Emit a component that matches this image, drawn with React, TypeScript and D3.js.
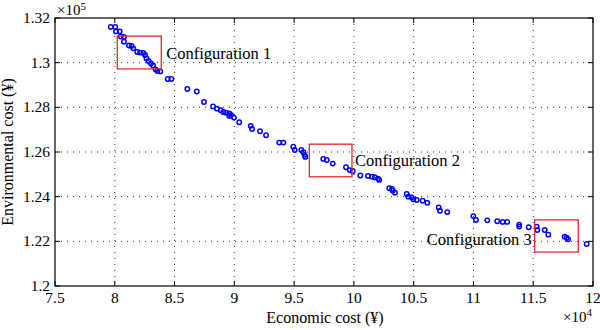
import React from "react";
import * as d3 from "d3";

const econ: number[] = [7.966,8.004,8.010,8.041,8.050,8.077,8.077,8.119,8.141,8.155,8.188,8.211,8.239,8.253,8.265,8.282,8.303,8.320,8.341,8.356,8.381,8.443,8.473,8.607,8.686,8.746,8.822,8.855,8.886,8.908,8.930,8.958,8.958,8.972,8.997,9.041,9.137,9.148,9.215,9.265,9.376,9.410,9.493,9.505,9.560,9.577,9.588,9.594,9.744,9.773,9.823,9.934,9.965,9.990,10.054,10.118,10.151,10.174,10.202,10.212,10.296,10.319,10.325,10.344,10.442,10.455,10.483,10.497,10.525,10.575,10.614,10.709,10.720,10.781,10.999,11.021,11.116,11.199,11.245,11.283,11.383,11.383,11.462,11.529,11.534,11.596,11.626,11.763,11.780,11.791,11.947];
const env: number[] = [1.3160,1.3160,1.3140,1.3140,1.3117,1.3115,1.3094,1.3077,1.3075,1.3064,1.3048,1.3045,1.3043,1.3034,1.3019,1.3008,1.2996,1.2987,1.2970,1.2963,1.2961,1.2927,1.2927,1.2882,1.2871,1.2824,1.2804,1.2794,1.2787,1.2779,1.2776,1.2773,1.2761,1.2766,1.2754,1.2733,1.2717,1.2703,1.2693,1.2675,1.2642,1.2642,1.2624,1.2609,1.2609,1.2599,1.2587,1.2578,1.2569,1.2564,1.2548,1.2532,1.2519,1.2514,1.2495,1.2493,1.2489,1.2487,1.2481,1.2475,1.2438,1.2434,1.2427,1.2418,1.2412,1.2400,1.2397,1.2388,1.2385,1.2382,1.2373,1.2352,1.2337,1.2331,1.2313,1.2296,1.2294,1.2290,1.2287,1.2287,1.2275,1.2266,1.2263,1.2266,1.2251,1.2251,1.2230,1.2221,1.2216,1.2209,1.2188];

const xTicks: number[] = [7.5,8,8.5,9,9.5,10,10.5,11,11.5,12];
const yTicks: number[] = [1.2,1.22,1.24,1.26,1.28,1.3,1.32];

const configLabels: string[] = ["Configuration 1","Configuration 2","Configuration 3"];
const boxX0: number[] = [8.021, 9.627, 11.512];
const boxX1: number[] = [8.389, 9.984, 11.877];
const boxY0: number[] = [1.3119, 1.2635, 1.2296];
const boxY1: number[] = [1.2972, 1.2489, 1.2152];

const W = 600, H = 330;
const L = 55, R = 593, T = 18, B = 286;
const FONT = "'Liberation Serif', 'Times New Roman', serif";

export default function App() {
  const x = d3.scaleLinear().domain([7.5, 12]).range([L, R]);
  const y = d3.scaleLinear().domain([1.2, 1.32]).range([B, T]);
  const fmt = (v: number) => String(+v.toFixed(2));
  const labelPos = [
    { dx: 5, anchor: "start" },
    { dx: 3, anchor: "start" },
    { dx: -3, anchor: "end" },
  ];
  return (
    <svg width={W} height={H} style={{ position: "absolute", left: 0, top: 0, background: "#fff" }} fontFamily={FONT}>
      <rect x={0} y={0} width={W} height={H} fill="#fff" />
      {xTicks.slice(1, -1).map((t) => (
        <line key={"gx" + t} x1={x(t)} x2={x(t)} y1={T} y2={B} stroke="#000" strokeWidth={1} strokeDasharray="1,5" opacity={0.8} />
      ))}
      {yTicks.slice(1, -1).map((t) => (
        <line key={"gy" + t} x1={L} x2={R} y1={y(t)} y2={y(t)} stroke="#000" strokeWidth={1} strokeDasharray="1,5" opacity={0.8} />
      ))}
      {xTicks.map((t) => (
        <g key={"tx" + t}>
          <line x1={x(t)} x2={x(t)} y1={B} y2={B - 5} stroke="#000" />
          <line x1={x(t)} x2={x(t)} y1={T} y2={T + 5} stroke="#000" />
          <text x={x(t)} y={B + 17} textAnchor="middle" fontSize={15.5}>{fmt(t)}</text>
        </g>
      ))}
      {yTicks.map((t) => (
        <g key={"ty" + t}>
          <line x1={L} x2={L + 5} y1={y(t)} y2={y(t)} stroke="#000" />
          <line x1={R} x2={R - 5} y1={y(t)} y2={y(t)} stroke="#000" />
          <text x={L - 5} y={y(t) + 5} textAnchor="end" fontSize={15.5}>{fmt(t)}</text>
        </g>
      ))}
      <rect x={L} y={T} width={R - L} height={B - T} fill="none" stroke="#000" strokeWidth={1.2} />
      {econ.map((v, i) => (
        <circle key={"p" + i} cx={x(v)} cy={y(env[i])} r={2.2} fill="none" stroke="#0000ff" strokeWidth={1.5} />
      ))}
      {configLabels.map((lab, i) => {
        const x0 = x(boxX0[i]), x1 = x(boxX1[i]);
        const y0 = y(boxY0[i]), y1 = y(boxY1[i]);
        const p = labelPos[i];
        const tx = p.anchor === "start" ? x1 + p.dx : x0 + p.dx;
        const ty = i === 2 ? y0 + 25 : (y0 + y1) / 2 + 6;
        return (
          <g key={"c" + i}>
            <rect x={x0} y={y0} width={x1 - x0} height={y1 - y0} fill="none" stroke="#e8262f" strokeWidth={1.3} />
            <text x={tx} y={ty} textAnchor={p.anchor} fontSize={16.5}>{lab}</text>
          </g>
        );
      })}
      <text x={325} y={323} textAnchor="middle" fontSize={16}>Economic cost (¥)</text>
      <text transform={`translate(13,${(T + B) / 2}) rotate(-90)`} textAnchor="middle" fontSize={16}>Environmental cost (¥)</text>
      <text x={57} y={15} fontSize={15}>×10<tspan dy={-5} fontSize={11}>5</tspan></text>
      <text x={563} y={322} fontSize={15}>×10<tspan dy={-6} fontSize={11}>4</tspan></text>
    </svg>
  );
}
